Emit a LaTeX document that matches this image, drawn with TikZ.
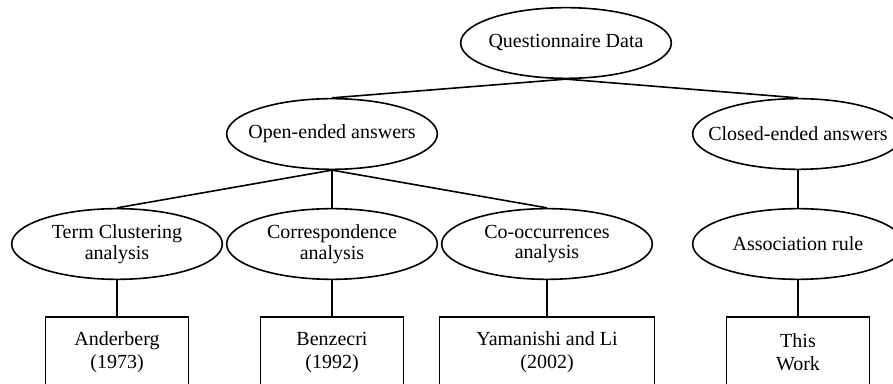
\documentclass[tikz,border=0pt]{standalone}
\usepackage{fontspec}
\setmainfont{Liberation Serif}
\usepackage{tikz}
\usetikzlibrary{shapes.geometric,positioning}

\begin{document}
\begin{tikzpicture}[
    x=0.75pt, y=-0.75pt,
    topic/.style={ellipse, draw, line width=1.2pt, minimum width=158pt, minimum height=53pt, inner xsep=-12pt, inner ysep=0pt, align=center, font=\fontsize{15}{15.5}\selectfont},
    work/.style={rectangle, draw, line width=1.2pt, minimum width=107pt, minimum height=53pt, align=center, font=\fontsize{15}{17}\selectfont},
    link/.style={line width=1.2pt}
]
\clip (0,0) rectangle (893,384);

% Root
\node[topic] (qdata) at (566,43) {Questionnaire Data};

% Answer types
\node[topic] (open) at (332,134) {Open-ended answers};
\node[topic] (closed) at (798,134) {Closed-ended answers};

% Methods
\node[topic] (term) at (117,244) {Term Clustering\\analysis};
\node[topic] (corr) at (332,244) {Correspondence\\analysis};
\node[topic] (cooc) at (547,244) {Co-occurrences\\analysis};
\node[topic] (assoc) at (798,244) {Association rule};

% References
\node[work, below=27pt of term] (anderberg) {Anderberg\\(1973)};
\node[work, below=27pt of corr] (benzecri) {Benzecri\\(1992)};
\node[work, below=27pt of cooc, minimum width=161pt] (yamanishi) {Yamanishi and Li\\(2002)};
\node[work, below=27pt of assoc] (thiswork) {This\\Work};

% Tree edges
\draw[link] (qdata.south) -- (open.north);
\draw[link] (qdata.south) -- (closed.north);
\draw[link] (open.south) -- (term.north);
\draw[link] (open.south) -- (corr.north);
\draw[link] (open.south) -- (cooc.north);
\draw[link] (closed.south) -- (assoc.north);
\draw[link] (term.south) -- (anderberg.north);
\draw[link] (corr.south) -- (benzecri.north);
\draw[link] (cooc.south) -- (yamanishi.north);
\draw[link] (assoc.south) -- (thiswork.north);

\end{tikzpicture}
\end{document}
